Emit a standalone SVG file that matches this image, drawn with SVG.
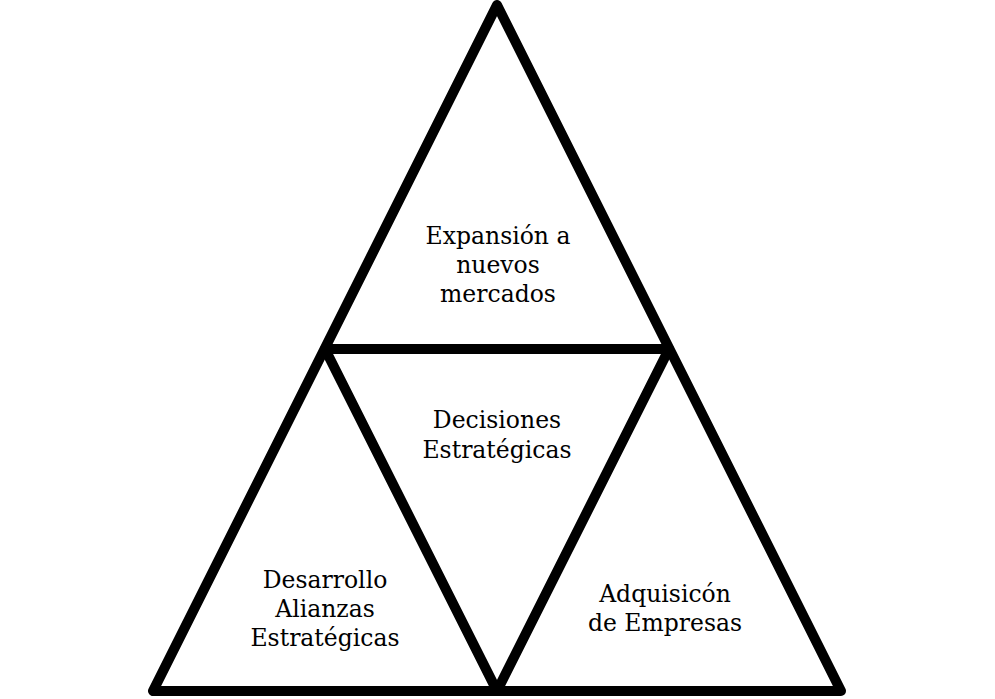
<svg xmlns="http://www.w3.org/2000/svg" width="995" height="699" viewBox="0 0 995 699">
<style>
.ln{fill:none;stroke:#000;stroke-width:10;stroke-linejoin:round;stroke-linecap:round}
.t{font-family:"DejaVu Serif","Liberation Serif",serif;font-size:23.5px;fill:#000;text-anchor:middle}
</style>
<rect width="995" height="699" fill="#fff"/>
<g id="connectors">
<path class="ln" d="M497,5 L153,691 L841,691 Z"/>
<path class="ln" d="M325,349 L669,349 L497,691 Z"/>
</g>
<g id="top"><text class="t" x="498" y="244">Expansión a</text><text class="t" x="498" y="273">nuevos</text><text class="t" x="498" y="302">mercados</text></g>
<g id="center"><text class="t" x="497" y="428">Decisiones</text><text class="t" x="497" y="458">Estratégicas</text></g>
<g id="left"><text class="t" x="325" y="588">Desarrollo</text><text class="t" x="325" y="617">Alianzas</text><text class="t" x="325" y="646">Estratégicas</text></g>
<g id="right"><text class="t" x="665" y="602">Adquisicón</text><text class="t" x="665" y="631">de Empresas</text></g>
</svg>
